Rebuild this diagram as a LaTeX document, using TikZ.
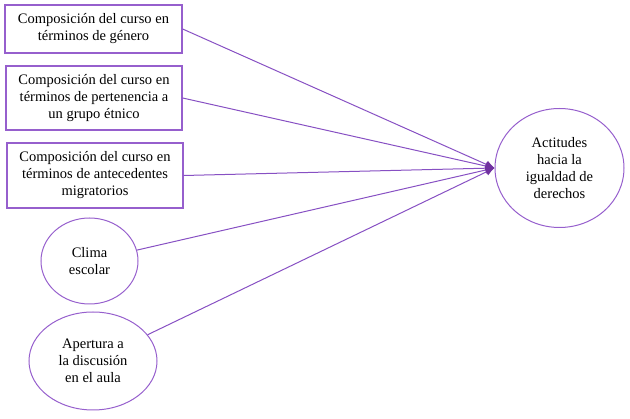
\documentclass[tikz,border=0pt]{standalone}
\usepackage{fontspec}
\setmainfont{Liberation Serif}
\usetikzlibrary{shapes.geometric,arrows.meta}

\definecolor{boxcol}{RGB}{150,95,205}
\definecolor{linecol}{RGB}{135,80,195}
\definecolor{tipcol}{RGB}{112,48,160}

\tikzset{
  factorbox/.style={draw=boxcol,line width=1.3pt,align=center,inner sep=0pt,
    font=\fontsize{14.5pt}{17pt}\selectfont},
  factorell/.style={draw=boxcol,line width=1pt,ellipse,align=center,inner sep=0pt,
    font=\fontsize{14.5pt}{17pt}\selectfont},
  link/.style={draw=linecol,line width=1pt,-{Latex[length=9pt,width=8pt,fill=tipcol,color=tipcol]}}
}

\begin{document}
\begin{tikzpicture}[x=1pt,y=-1pt]

\useasboundingbox (0,0) rectangle (630,419);

% Predictors
\node[factorbox,minimum width=177pt,minimum height=48pt] (genero) at (93.5,29) {Composición del curso en\\ términos de género};

\node[factorbox,minimum width=176pt,minimum height=64pt] (etnico) at (94,98) {Composición del curso en\\ términos de pertenencia a\\ un grupo étnico};

\node[factorbox,minimum width=176pt,minimum height=65pt] (migra) at (95,175.5) {Composición del curso en\\ términos de antecedentes\\ migratorios};

\node[factorell,minimum width=97pt,minimum height=86pt] (clima) at (89.5,261) {Clima\\ escolar};

\node[factorell,minimum width=128pt,minimum height=98pt] (apertura) at (93,361) {Apertura a\\ la discusión\\ en el aula};

% Outcome
\node[factorell,minimum width=129pt,minimum height=119pt] (actitud) at (559.5,168) {Actitudes\\ hacia la\\ igualdad de\\ derechos};

% Edges
\draw[link] (genero.east) -- (actitud.west);
\draw[link] (etnico.east) -- (actitud.west);
\draw[link] (migra.east) -- (actitud.west);
\draw[link] (clima) -- (actitud.west);
\draw[link] (apertura) -- (actitud.west);

\end{tikzpicture}
\end{document}
